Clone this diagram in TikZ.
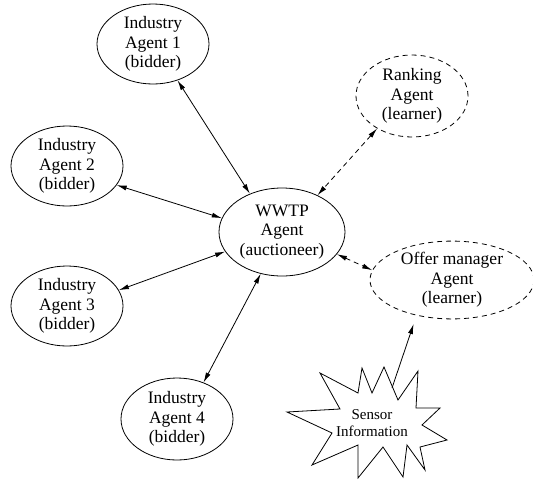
\documentclass[tikz,border=0pt]{standalone}
\usepackage{fontspec}
\setmainfont{Liberation Serif}
\usetikzlibrary{shapes.geometric,arrows.meta}
\tikzset{
  agent/.style={ellipse, draw, line width=0.8pt, inner sep=0pt, align=center,
    font=\fontsize{17.5}{19.5}\selectfont, minimum width=112pt, minimum height=80pt},
  learner/.style={agent, dash pattern=on 5pt off 4pt},
  link/.style={line width=0.8pt, {Latex[length=10pt,width=5pt]}-{Latex[length=10pt,width=5pt]}},
  dlink/.style={link, dash pattern=on 5pt off 4pt},
  oneway/.style={line width=0.8pt, -{Latex[length=10pt,width=5pt]}},
  startxt/.style={align=center, inner sep=0pt, font=\fontsize{15}{17}\selectfont}
}
\begin{document}
\begin{tikzpicture}[x=1pt,y=1pt]
\useasboundingbox (0,0) rectangle (533,-483);
\node[agent] (a1) at (153,-44) {Industry\\Agent 1\\(bidder)};
\node[agent] (a2) at (67,-166) {Industry\\Agent 2\\(bidder)};
\node[agent] (a3) at (67,-306) {Industry\\Agent 3\\(bidder)};
\node[agent, minimum height=82pt] (a4) at (177,-419) {Industry\\Agent 4\\(bidder)};
\node[agent, minimum width=126pt, minimum height=88pt] (w) at (282,-232) {WWTP\\Agent\\(auctioneer)};
\node[learner, minimum height=82pt] (rk) at (412,-96) {Ranking\\Agent\\(learner)};
\node[learner, minimum width=164pt, minimum height=64pt] (off) at (452,-280) {Offer manager\\Agent\\(learner)};
% star
\draw[line width=0.8pt] (287,-412) -- (340,-409) -- (320,-373) -- (358,-393) -- (362,-368) -- (372,-393)
  -- (384,-367) -- (398,-400) -- (418,-371) -- (416,-408) -- (440,-408) -- (422,-425) -- (447,-440)
  -- (420,-447) -- (425,-470) -- (407,-445) -- (403,-477) -- (383,-447) -- (358,-478) -- (358,-445)
  -- (312,-465) -- (332,-433) -- cycle;
\node[startxt] (sensor) at (372,-423) {Sensor\\Information};
\coordinate (sstart) at (392,-388);
% connectors
\draw[link] (a1.-56) -- (w.130);
\draw[link] (a2.-21) -- (w.167);
\draw[link] (a3.17) -- (w.199);
\draw[link] (a4.54) -- (w.243);
\draw[dlink] (rk.223) -- (w.46);
\draw[dlink] (w.-22) -- (off.173);
\draw[oneway, shorten >=9pt] (sstart) -- (off.225);
\end{tikzpicture}
\end{document}
